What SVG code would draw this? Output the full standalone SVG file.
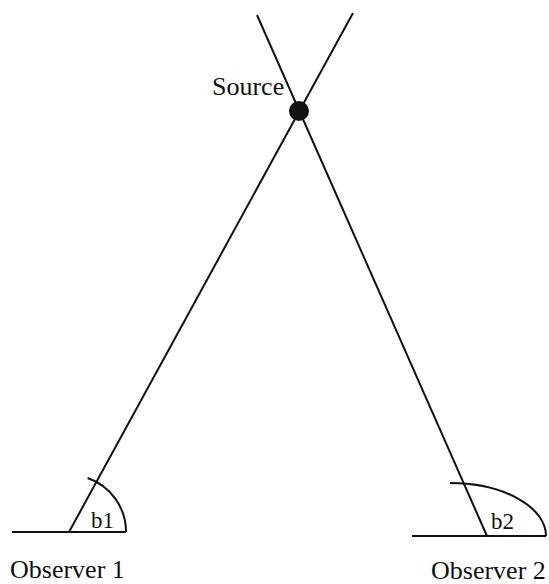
<svg xmlns="http://www.w3.org/2000/svg" width="549" height="584" viewBox="0 0 549 584">
<style>
.ln{stroke:#111;stroke-width:2;fill:none;stroke-linecap:butt}
.t{font-family:"Liberation Serif","Times New Roman",serif;fill:#111}
</style>
<rect width="549" height="584" fill="#fff"/>
<g id="connectors">
<line class="ln" x1="69" y1="532" x2="353" y2="13"/>
<line class="ln" x1="487" y1="536" x2="257" y2="15"/>
</g>
<g id="source">
<circle cx="299" cy="111" r="10" fill="#111"/>
<text class="t" x="212" y="95" font-size="26">Source</text>
</g>
<g id="observer1">
<line class="ln" x1="12" y1="532" x2="126" y2="532"/>
<path class="ln" d="M126 532 A57 57 0 0 0 87.6 478"/>
<text class="t" x="91" y="528" font-size="23">b1</text>
<text class="t" x="10" y="578" font-size="26">Observer 1</text>
</g>
<g id="observer2">
<line class="ln" x1="412" y1="536" x2="546" y2="536"/>
<path class="ln" d="M450 483 A96 53 0 0 1 546 536"/>
<text class="t" x="491" y="529" font-size="23">b2</text>
<text class="t" x="431" y="579" font-size="26">Observer 2</text>
</g>
</svg>
